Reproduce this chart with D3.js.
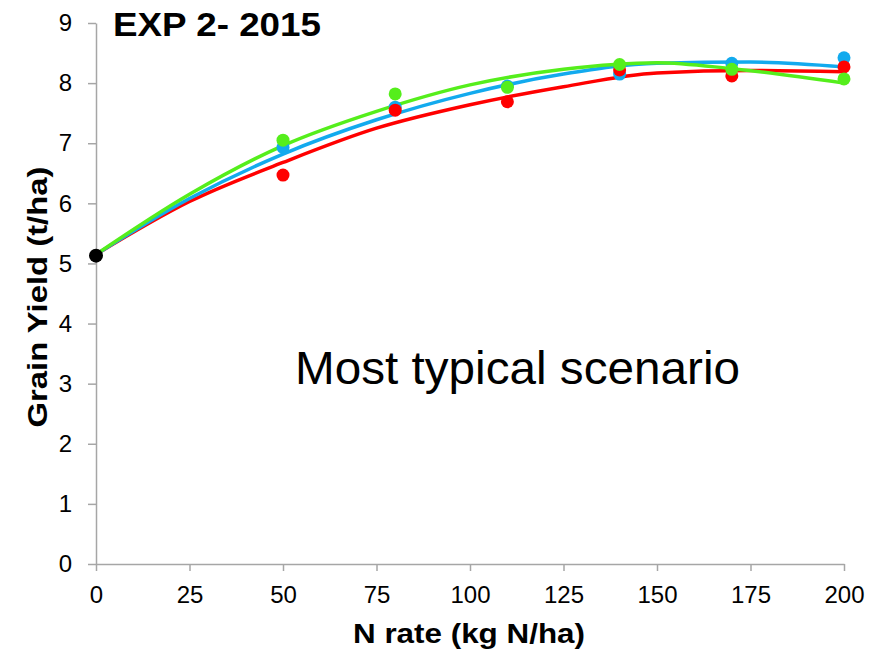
<!DOCTYPE html>
<html>
<head>
<meta charset="utf-8">
<script src="https://cdn.jsdelivr.net/npm/d3@7/dist/d3.min.js"></script>
<style>
  html, body { margin: 0; padding: 0; background: #fff; }
  svg { display: block; font-family: "Liberation Sans", Arial, sans-serif; }
</style>
</head>
<body>
<div id="chart"></div>
<script>
// ── Data ──────────────────────────────────────
const nRates   = [50, 80, 110, 140, 170, 200];
const blueObs  = [6.93, 7.60, 7.95, 8.15, 8.33, 8.42];
const redObs   = [6.47, 7.55, 7.69, 8.22, 8.12, 8.27];
const greenObs = [7.05, 7.82, 7.93, 8.31, 8.23, 8.07];
const control  = { n: 0, y: 5.13 };

// fitted curves
const curveN     = [0, 25, 50, 75, 100, 125, 150, 175, 200];
const redFit     = [5.15, 6.03, 6.68, 7.25, 7.64, 7.94, 8.17, 8.21, 8.19];
const blueFit    = [5.15, 6.08, 6.82, 7.39, 7.83, 8.15, 8.33, 8.35, 8.27];
const greenFitN  = [0, 25, 50, 75, 100, 125, 150, 170, 200];
const greenFit   = [5.15, 6.15, 6.96, 7.53, 7.97, 8.23, 8.34, 8.24, 8.00];

const xTicks = [0, 25, 50, 75, 100, 125, 150, 175, 200];
const yTicks = [0, 1, 2, 3, 4, 5, 6, 7, 8, 9];

const RED   = "#ff0000";
const BLUE  = "#12aaee";
const GREEN = "#55ee1c";

// ── Layout ────────────────────────────────────
const W = 882, H = 653;
const margin = { top: 23, right: 38, bottom: 89, left: 96 };

const svg = d3.select("#chart").append("svg")
  .attr("width", W).attr("height", H);

const x = d3.scaleLinear().domain([0, 200]).range([margin.left, W - margin.right]);
const y = d3.scaleLinear().domain([0, 9]).range([H - margin.bottom, margin.top]);

// ── Axes ──────────────────────────────────────
const axisColor = "#a6a6a6";

svg.append("g")
  .attr("transform", `translate(${margin.left},0)`)
  .call(d3.axisLeft(y).tickValues(yTicks).tickSize(8).tickPadding(16).tickSizeOuter(0))
  .call(g => g.select(".domain").attr("stroke", axisColor).attr("stroke-width", 1.5))
  .call(g => g.selectAll(".tick line").attr("stroke", axisColor).attr("stroke-width", 1.5))
  .call(g => g.selectAll(".tick text")
    .attr("fill", "#000")
    .attr("font-size", "24px")
    .attr("font-family", "'Liberation Sans', Arial, sans-serif"));

svg.append("g")
  .attr("transform", `translate(0,${H - margin.bottom})`)
  .call(d3.axisBottom(x).tickValues(xTicks).tickSize(7).tickPadding(15).tickSizeOuter(0))
  .call(g => g.select(".domain").attr("stroke", axisColor).attr("stroke-width", 1.5))
  .call(g => g.selectAll(".tick line").attr("stroke", axisColor).attr("stroke-width", 1.5))
  .call(g => g.selectAll(".tick text")
    .attr("fill", "#000")
    .attr("font-size", "24px")
    .attr("font-family", "'Liberation Sans', Arial, sans-serif"));

// ── Fitted curves ─────────────────────────────
const line = d3.line()
  .x(d => x(d[0]))
  .y(d => y(d[1]))
  .curve(d3.curveMonotoneX);

const fits = [
  { color: RED,   pts: d3.zip(curveN, redFit) },
  { color: BLUE,  pts: d3.zip(curveN, blueFit) },
  { color: GREEN, pts: d3.zip(greenFitN, greenFit) }
];

svg.selectAll(".fit")
  .data(fits)
  .join("path")
  .attr("class", "fit")
  .attr("d", d => line(d.pts))
  .attr("fill", "none")
  .attr("stroke", d => d.color)
  .attr("stroke-width", 3.5)
  .attr("stroke-linecap", "round");

// ── Observed points ───────────────────────────
const obs = [
  { color: BLUE,  vals: blueObs },
  { color: RED,   vals: redObs },
  { color: GREEN, vals: greenObs }
];

obs.forEach(s => {
  svg.append("g").selectAll("circle")
    .data(d3.zip(nRates, s.vals))
    .join("circle")
    .attr("cx", d => x(d[0]))
    .attr("cy", d => y(d[1]))
    .attr("r", 6.5)
    .attr("fill", s.color);
});

svg.append("circle")
  .attr("cx", x(control.n))
  .attr("cy", y(control.y))
  .attr("r", 7)
  .attr("fill", "#000");

// ── Text ──────────────────────────────────────
svg.append("text")
  .attr("x", 113).attr("y", 36)
  .attr("font-size", "34px").attr("font-weight", "bold")
  .attr("textLength", 208).attr("lengthAdjust", "spacingAndGlyphs")
  .text("EXP 2- 2015");

svg.append("text")
  .attr("x", 295).attr("y", 384)
  .attr("font-size", "47px")
  .attr("textLength", 445).attr("lengthAdjust", "spacingAndGlyphs")
  .text("Most typical scenario");

svg.append("text")
  .attr("x", 469).attr("y", 643)
  .attr("text-anchor", "middle")
  .attr("font-size", "28px").attr("font-weight", "bold")
  .attr("textLength", 232).attr("lengthAdjust", "spacingAndGlyphs")
  .text("N rate (kg N/ha)");

svg.append("text")
  .attr("transform", "translate(47,297) rotate(-90)")
  .attr("text-anchor", "middle")
  .attr("font-size", "28px").attr("font-weight", "bold")
  .attr("textLength", 261).attr("lengthAdjust", "spacingAndGlyphs")
  .text("Grain Yield (t/ha)");
</script>
</body>
</html>
